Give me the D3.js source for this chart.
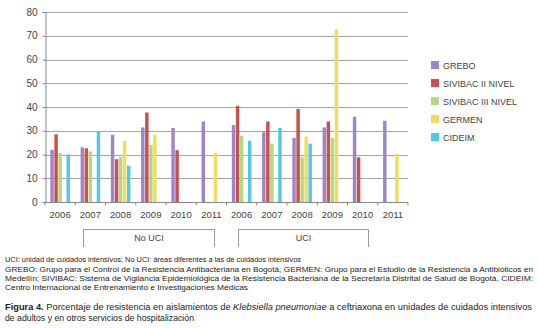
<!DOCTYPE html>
<html>
<head>
<meta charset="utf-8">
<script src="https://cdn.jsdelivr.net/npm/d3@7"></script>
<style>
  body { margin: 0; background: #fff; }
  svg { display: block; font-family: "Liberation Sans", Arial, sans-serif; }
</style>
</head>
<body>
<div id="chart"></div>
<script>
// data (null = no bar)
const years = ["2006","2007","2008","2009","2010","2011","2006","2007","2008","2009","2010","2011"];
// bracket extents in units of year slots
const groups = [{name: "No UCI", from: 1.27, to: 5.6}, {name: "UCI", from: 6.39, to: 10.69}];
const seriesNames = ["GREBO","SIVIBAC II NIVEL","SIVIBAC III NIVEL","GERMEN","CIDEIM"];
const grebo    = [22, 23, 28.3, 31.4, 31.2, 33.9, 32.4, 29.4, 27, 31.4, 35.9, 34.2];
const sivibac2 = [28.5, 22.6, 18, 37.7, 21.8, null, 40.5, 33.9, 39.2, 33.9, 18.8, null];
const sivibac3 = [20.6, 21.3, 19, 24, null, null, 27.9, 24.6, 18.8, 26.9, null, null];
const germen   = [null, null, 25.8, 28.2, null, 20.7, null, null, 27.5, 72.7, null, 20.2];
const cideim   = [20, 29.5, 15.3, null, null, null, 25.8, 31.2, 24.5, null, null, null];
const yTicks = [0,10,20,30,40,50,60,70,80];
const colors = ["#9d86c8","#c8504f","#b6d67f","#efde5c","#4fc9e6"];

const series = [grebo, sivibac2, sivibac3, germen, cideim];

const footLines = [
  "UCI: unidad de cuidados intensivos;  No UCI: áreas diferentes a las de cuidados intensivos",
  "GREBO: Grupo para el Control de la Resistencia Antibacteriana en Bogotá; GERMEN: Grupo para el Estudio de la Resistencia a Antibióticos en",
  "Medellín; SIVIBAC: Sistema de Vigilancia Epidemiológica de la Resistencia Bacteriana de la Secretaría Distrital de Salud de Bogotá, CIDEIM:",
  "Centro Internacional de Entrenamiento e Investigaciones Médicas"
];

const width = 538, height = 328;
const plot = {left: 45, right: 408, top: 12, bottom: 202};

const svg = d3.select("#chart").append("svg")
  .attr("width", width).attr("height", height);

const x = d3.scaleBand().domain(d3.range(years.length)).range([plot.left, plot.right]);
const xInner = d3.scaleBand().domain(d3.range(series.length))
  .range([0, x.bandwidth()]).paddingOuter(1.25);
const y = d3.scaleLinear().domain([0, 80]).range([plot.bottom, plot.top]);

// grid
svg.append("g").selectAll("line")
  .data(yTicks.filter(d => d > 0))
  .join("line")
  .attr("x1", plot.left).attr("x2", plot.right)
  .attr("y1", d => Math.round(y(d)) + 0.5).attr("y2", d => Math.round(y(d)) + 0.5)
  .attr("stroke", "#a6a6a6").attr("stroke-width", 1);

// bars
series.forEach((vals, s) => {
  svg.append("g").selectAll("rect")
    .data(vals.map((v, i) => ({v, i})).filter(d => d.v != null))
    .join("rect")
    .attr("x", d => x(d.i) + xInner(s) + 0.3)
    .attr("width", xInner.bandwidth() - 0.6)
    .attr("y", d => y(d.v))
    .attr("height", d => y(0) - y(d.v))
    .attr("fill", colors[s]);
});

// y axis
const yAxis = svg.append("g")
  .attr("transform", `translate(${plot.left + 0.5},0)`)
  .call(d3.axisLeft(y).tickValues(yTicks).tickSize(3).tickPadding(5));
yAxis.select(".domain").attr("stroke", "#888");
yAxis.selectAll(".tick line").attr("stroke", "#888");
yAxis.selectAll("text").attr("fill", "#444").style("font-size", "10px");

// x axis
const xb = svg.append("g").attr("transform", `translate(0,${Math.round(plot.bottom) + 0.5})`);
xb.append("line").attr("x1", plot.left).attr("x2", plot.right).attr("stroke", "#888");
xb.selectAll("line.tk")
  .data(d3.range(years.length + 1))
  .join("line").attr("class", "tk")
  .attr("x1", i => x.step() * i + plot.left).attr("x2", i => x.step() * i + plot.left)
  .attr("y1", 0).attr("y2", 3).attr("stroke", "#888");
xb.selectAll("text")
  .data(years)
  .join("text")
  .attr("x", (d, i) => x(i) + x.bandwidth() / 2)
  .attr("y", 15.5)
  .attr("text-anchor", "middle")
  .attr("fill", "#444")
  .style("font-size", "9.5px")
  .text(d => d);

// group brackets
groups.forEach(g => {
  const x0 = Math.round(plot.left + x.step() * g.from) + 0.5;
  const x1 = Math.round(plot.left + x.step() * g.to) + 0.5;
  svg.append("path")
    .attr("d", `M${x0},247 V229.5 H${x1} V247`)
    .attr("fill", "none").attr("stroke", "#999");
  svg.append("text")
    .attr("x", (x0 + x1) / 2).attr("y", 240.5)
    .attr("text-anchor", "middle").attr("fill", "#444")
    .style("font-size", "9px")
    .text(g.name);
});

// legend
const legend = svg.append("g").attr("transform", "translate(431,61)");
seriesNames.forEach((n, i) => {
  const row = legend.append("g").attr("transform", `translate(0,${i * 18})`);
  row.append("rect").attr("width", 8).attr("height", 8).attr("fill", colors[i]);
  row.append("text").attr("x", 12).attr("y", 7.5)
    .attr("fill", "#444").style("font-size", "9px").text(n);
});

// footnotes
const footY = [262, 271.5, 280.5, 289.5];
const footLen = [296, 528, 528, 243];
footLines.forEach((t, i) => {
  svg.append("text")
    .attr("x", 5).attr("y", footY[i])
    .attr("fill", "#222")
    .style("font-size", "7.6px")
    .attr("textLength", footLen[i])
    .attr("lengthAdjust", "spacingAndGlyphs")
    .text(t);
});

// caption
const cap = svg.append("text").attr("x", 5).attr("y", 310)
  .attr("fill", "#222").style("font-size", "9px")
  .attr("textLength", 527).attr("lengthAdjust", "spacingAndGlyphs");
cap.append("tspan").attr("font-weight", "bold").text("Figura 4.");
cap.append("tspan").text(" Porcentaje de resistencia en aislamientos de ");
cap.append("tspan").attr("font-style", "italic").text("Klebsiella pneumoniae");
cap.append("tspan").text(" a ceftriaxona en unidades de cuidados intensivos");
svg.append("text").attr("x", 5).attr("y", 321)
  .attr("fill", "#222").style("font-size", "9px")
  .attr("textLength", 189).attr("lengthAdjust", "spacingAndGlyphs")
  .text("de adultos y en otros servicios de hospitalización");
</script>
</body>
</html>
